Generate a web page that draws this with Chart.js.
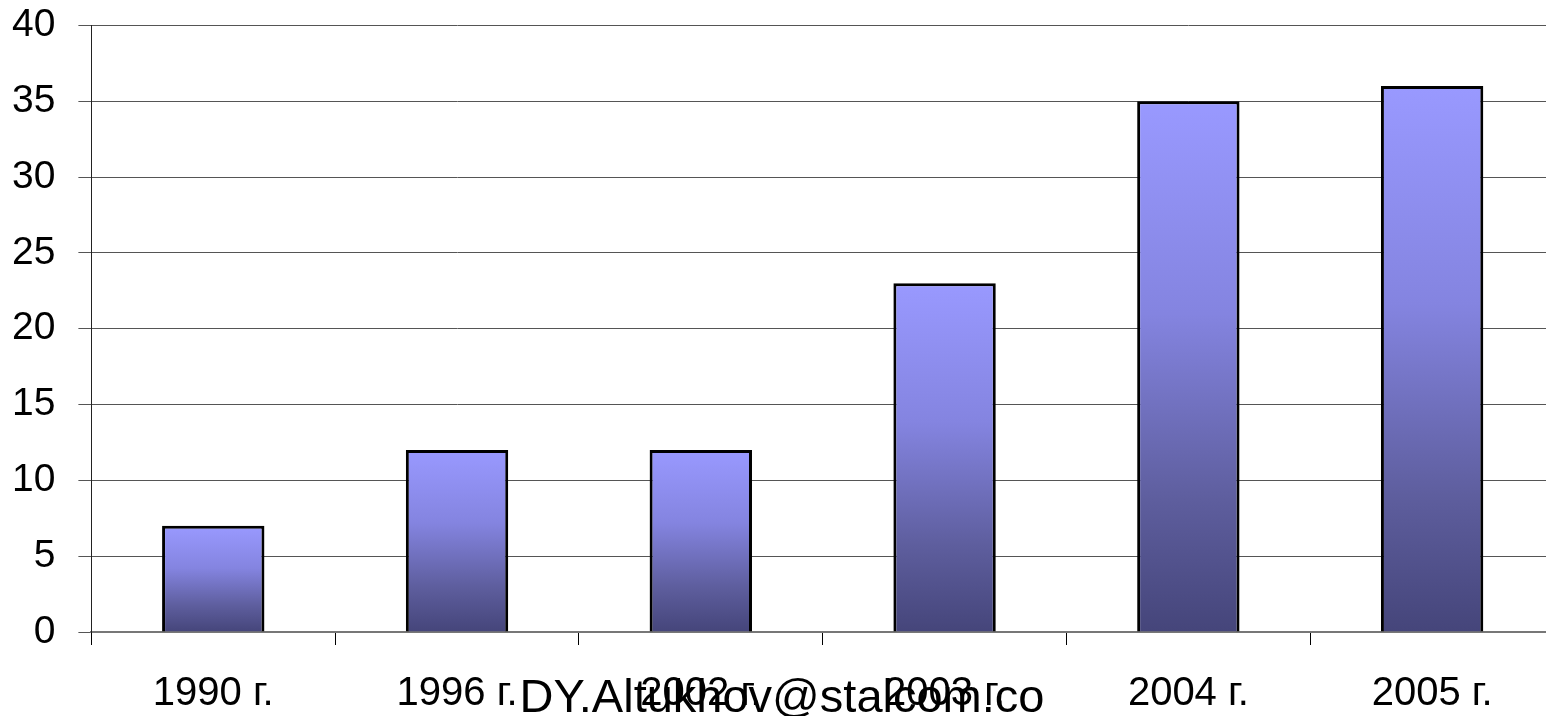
<!DOCTYPE html>
<html lang="ru">
<head>
    <meta charset="UTF-8">
    <title>Диаграмма по годам</title>
    <script src="https://cdn.jsdelivr.net/npm/chart.js"></script>
    <style>
        html, body { margin: 0; padding: 0; background: #fff; overflow: hidden; }
        /* холст чуть выше окна: верхняя подпись оси уходит под край */
        #wrap { position: relative; top: -21px; width: 1556px; height: 737px; }
    </style>
</head>
<body>
    <div id="wrap"><canvas id="chart"></canvas></div>

    <script>
        // данные по годам
        const years = ['1990 г.', '1996 г.', '2002 г.', '2003 г.', '2004 г.', '2005 г.'];
        const values = [7, 12, 12, 23, 35, 36];
        const watermark = 'DY.Altukhov@stalcom.co';

        // градиент для каждого столбика: светлый сверху, тёмный у основания
        function barFill(context) {
            const chart = context.chart;
            const y = chart.scales.y;
            if (!chart.chartArea || !y) return '#9999ff';
            const v = context.dataset.data[context.dataIndex];
            const top = y.getPixelForValue(v);
            const base = y.getPixelForValue(0);
            const g = chart.ctx.createLinearGradient(0, top, 0, base);
            g.addColorStop(0, '#9999ff');
            g.addColorStop(0.4, '#8484e0');
            g.addColorStop(0.75, '#5e5e9e');
            g.addColorStop(1, '#45457a');
            return g;
        }

        // надпись поверх подписей оси
        const watermarkPlugin = {
            id: 'watermark',
            afterDraw(chart) {
                const ctx = chart.ctx;
                ctx.save();
                ctx.font = '47px "Liberation Sans", Arial, sans-serif';
                ctx.fillStyle = '#000';
                ctx.textAlign = 'center';
                ctx.textBaseline = 'alphabetic';
                ctx.fillText(watermark, 782, 733);
                ctx.restore();
            }
        };

        const family = '"Liberation Sans", Arial, sans-serif';

        const ctx = document.getElementById('chart').getContext('2d');
        new Chart(ctx, {
            type: 'bar',
            data: {
                labels: years,
                datasets: [{
                    data: values,
                    backgroundColor: barFill,
                    borderColor: '#000',
                    borderWidth: 3,
                    borderSkipped: 'start',
                    barPercentage: 0.42,
                    categoryPercentage: 1
                }]
            },
            options: {
                responsive: true,
                maintainAspectRatio: false,
                animation: false,
                layout: { padding: { left: -11, right: 2, top: 0, bottom: -27 } },
                plugins: {
                    legend: { display: false },
                    tooltip: { enabled: false }
                },
                scales: {
                    x: {
                        grid: {
                            offset: true,
                            drawOnChartArea: false,
                            drawTicks: true,
                            tickLength: 13,
                            color: '#000'
                        },
                        border: { display: true, color: '#777', width: 2 },
                        ticks: {
                            color: '#000',
                            padding: 25,
                            font: { family: family, size: 40 }
                        }
                    },
                    y: {
                        min: 0,
                        max: 40,
                        ticks: {
                            stepSize: 5,
                            color: '#000',
                            padding: 23,
                            font: { family: family, size: 39 }
                        },
                        grid: {
                            color: '#555',
                            lineWidth: 1,
                            tickLength: 13
                        },
                        border: { display: true, color: '#222', width: 1 }
                    }
                }
            },
            plugins: [watermarkPlugin]
        });
    </script>
</body>
</html>
